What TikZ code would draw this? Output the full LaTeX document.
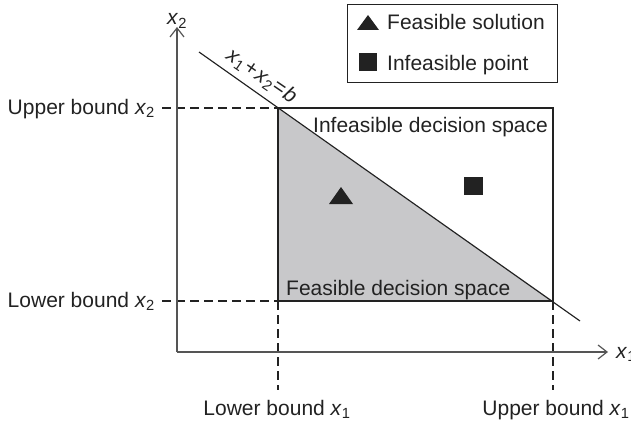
\documentclass[tikz,border=0pt]{standalone}
\usepackage{fontspec}
\setmainfont{Liberation Sans}
\usetikzlibrary{arrows.meta}
\definecolor{regiongray}{HTML}{C8C8CA}
\definecolor{inkdark}{HTML}{222222}
\definecolor{axisgray}{HTML}{555555}
\newcommand{\vx}[1]{\textit{x}\textsubscript{#1}}
\begin{document}
\begin{tikzpicture}[x=1pt,y=-1pt,
  lbl/.style={font=\fontsize{21}{24}\selectfont, text=inkdark, inner sep=0pt},
  axisline/.style={draw=axisgray, line width=1.4pt, -{Straight Barb[length=9pt,width=14pt,line width=1.2pt]}},
  dashline/.style={draw=inkdark, line width=1.1pt, dash pattern=on 9pt off 5pt},
  thinline/.style={draw=inkdark, line width=1.15pt},
  marker/.style={fill=inkdark, draw=none}]
\useasboundingbox (0,0) rectangle (631,425);
\clip (0,0) rectangle (631,425);
% key points
\coordinate (O) at (177,352);
\coordinate (Ytop) at (177,27);
\coordinate (Xend) at (608,352);
\coordinate (UL) at (278,108);
\coordinate (UR) at (553,108);
\coordinate (LL) at (278,301);
\coordinate (LR) at (553,301);
\coordinate (L1) at (199,52);
\coordinate (L2) at (580,321);
\coordinate (DU) at (162,108);
\coordinate (DL) at (162,301);
\coordinate (DB1) at (278,390);
\coordinate (DB2) at (553,390);
% feasible region
\fill[regiongray] (UL) -- (LL) -- (LR) -- cycle;
% rectangle
\draw[thinline] (UL) rectangle (LR);
% constraint line
\draw[thinline] (L1) -- (L2);
\node[lbl, rotate=-34.5, anchor=south, inner sep=6pt] (eq) at (253,89) {\vx{1}\kern1.5pt+\kern1pt\vx{2}\kern1pt=\kern1pt\textit{b}};
% dashed bounds
\draw[dashline] (DU) -- (UL);
\draw[dashline] (DL) -- (LL);
\draw[dashline] (LL) -- (DB1);
\draw[dashline] (LR) -- (DB2);
% axes
\draw[axisline] (O) -- (Ytop);
\draw[axisline] (O) -- (Xend);
\node[lbl, anchor=base west] (x2lab) at (167,25) {\vx{2}};
\node[lbl, anchor=base west] (x1lab) at (616,358) {\vx{1}};
% bound labels
\node[lbl, anchor=base east] (ub2) at (155,114) {Upper bound \vx{2}};
\node[lbl, anchor=base east] (lb2) at (155,307) {Lower bound \vx{2}};
\node[lbl, anchor=base] (lb1) at (277,415) {Lower bound \vx{1}};
\node[lbl, anchor=base] (ub1) at (556,415) {Upper bound \vx{1}};
% region labels
\node[lbl, anchor=base west] (infs) at (313,132) {Infeasible decision space};
\node[lbl, anchor=base west] (fs) at (286,295) {Feasible decision space};
% markers in plot
\fill[marker] (329,204) -- (353,204) -- (341,187) -- cycle;
\fill[marker] (464,177) rectangle (483,195);
% legend
\node[draw=inkdark, line width=1.15pt, minimum width=210pt, minimum height=78pt, anchor=north west, inner sep=0pt] (legend) at (347,4) {};
\fill[marker] (357,30) -- (379,30) -- (368,15) -- cycle;
\fill[marker] (359,53) rectangle (377,71);
\node[lbl, anchor=base west] (lfs) at (387,30) {Feasible solution};
\node[lbl, anchor=base west] (lip) at (387,71) {Infeasible point};
\end{tikzpicture}
\end{document}
